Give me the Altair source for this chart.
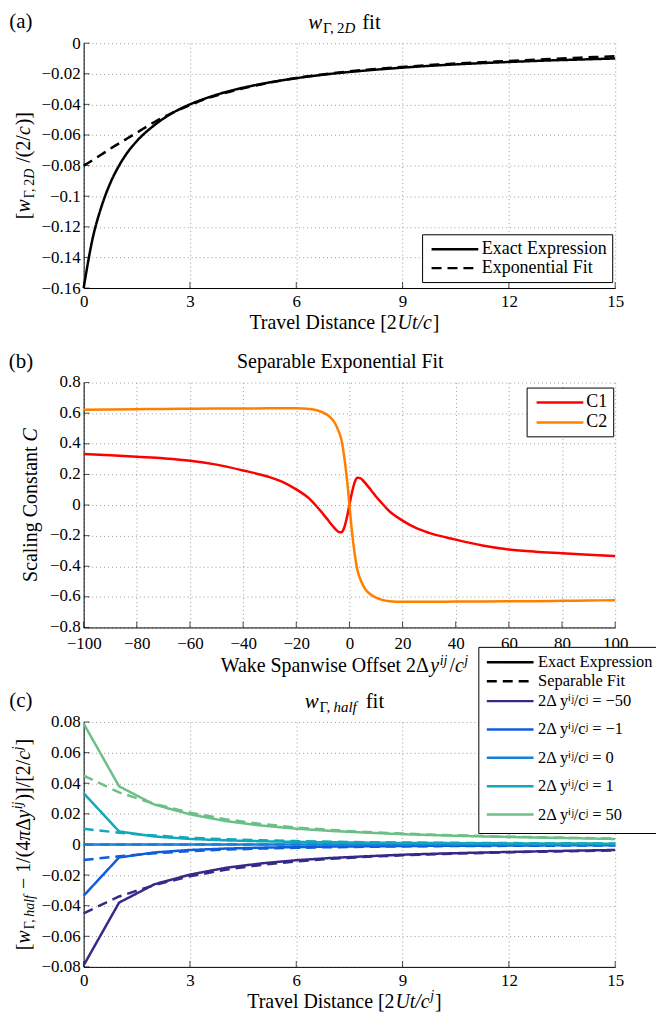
import altair as alt
import pandas as pd

# ---------------- data ----------------
# panel (a)
A_T = [0, 0.25, 0.5, 0.75, 1, 1.25, 1.5, 2, 2.5, 3, 3.5, 4, 5, 6, 7, 8, 9, 10, 11, 12, 13, 14, 15]
A_EXACT = [-0.160, -0.128, -0.107, -0.0915, -0.080, -0.071, -0.064, -0.0535, -0.0457, -0.040, -0.0356,
           -0.032, -0.0267, -0.0229, -0.020, -0.0178, -0.016, -0.0145, -0.0133, -0.0123, -0.0114, -0.0107, -0.0100]
A_FIT = [-0.080, -0.0765, -0.0728, -0.069, -0.0655, -0.062, -0.0585, -0.0515, -0.0455, -0.0405, -0.036,
         -0.0325, -0.027, -0.0228, -0.0197, -0.0173, -0.0155, -0.014, -0.0127, -0.0116, -0.0105, -0.0095, -0.0085]
A_KINDS = ["Exact Expression", "Exponential Fit"]
A_XTICKS = [0, 3, 6, 9, 12, 15]
A_YTICKS = [0, -0.02, -0.04, -0.06, -0.08, -0.1, -0.12, -0.14, -0.16]

# panel (b)
B_X = [-100, -90, -80, -70, -60, -50, -40, -30, -25, -20, -15, -12, -10, -8, -6, -5, -4, -3, -2, -1, 0,
       1, 2, 3, 4, 5, 6, 8, 10, 12, 15, 20, 25, 30, 40, 50, 60, 70, 80, 90, 100]
B_C1 = [0.334, 0.325, 0.315, 0.305, 0.290, 0.264, 0.226, 0.182, 0.150, 0.102, 0.040, -0.016, -0.056, -0.100,
        -0.143, -0.162, -0.176, -0.178, -0.150, -0.085, 0.0,
        0.085, 0.150, 0.178, 0.176, 0.162, 0.143, 0.100, 0.056, 0.016, -0.040, -0.102, -0.150, -0.182,
        -0.226, -0.264, -0.290, -0.305, -0.315, -0.325, -0.334]
B_C2 = [0.622, 0.624, 0.626, 0.628, 0.629, 0.630, 0.631, 0.632, 0.632, 0.632, 0.628, 0.618, 0.605, 0.585,
        0.550, 0.520, 0.480, 0.425, 0.320, 0.180, 0.0,
        -0.180, -0.320, -0.425, -0.480, -0.520, -0.550, -0.585, -0.605, -0.618, -0.628, -0.632, -0.632,
        -0.632, -0.631, -0.630, -0.629, -0.628, -0.626, -0.624, -0.622]
B_SERIES = ["C1", "C2"]
B_COLORS = ["#ff0000", "#ff8000"]
B_XTICKS = [-100, -80, -60, -40, -20, 0, 20, 40, 60, 80, 100]
B_YTICKS = [0.8, 0.6, 0.4, 0.2, 0, -0.2, -0.4, -0.6, -0.8]

# panel (c)
C_T = [0, 1, 2, 3, 4, 5, 6, 7, 8, 9, 10, 11, 12, 13, 14, 15]
C_M50_EX = [-0.079, -0.038, -0.026, -0.0197, -0.0153, -0.0124, -0.0103, -0.0088, -0.0077, -0.0067, -0.0060,
            -0.0054, -0.0049, -0.0044, -0.0040, -0.0036]
C_M50_FIT = [-0.045, -0.034, -0.0265, -0.0208, -0.0165, -0.0134, -0.0111, -0.0094, -0.0081, -0.0071, -0.0063,
             -0.0057, -0.0051, -0.0047, -0.0043, -0.0039]
C_M1_EX = [-0.0335, -0.0085, -0.0052, -0.0036, -0.0027, -0.0021, -0.0017, -0.0014, -0.0012, -0.0010, -0.0009,
           -0.0008, -0.0007, -0.0006, -0.0006, -0.0005]
C_M1_FIT = [-0.0102, -0.0077, -0.0058, -0.0044, -0.0034, -0.0027, -0.0022, -0.0018, -0.0015, -0.0013, -0.0011,
            -0.0010, -0.0009, -0.0008, -0.0007, -0.0006]
C_Z_EX = [0, 0, 0, 0, 0, 0, 0, 0, 0, 0, 0, 0, 0, 0, 0, 0]
C_Z_FIT = [0, 0, 0, 0, 0, 0, 0, 0, 0, 0, 0, 0, 0, 0, 0, 0]
C_P1_EX = [0.0335, 0.0085, 0.0052, 0.0036, 0.0027, 0.0021, 0.0017, 0.0014, 0.0012, 0.0010, 0.0009,
           0.0008, 0.0007, 0.0006, 0.0006, 0.0005]
C_P1_FIT = [0.0102, 0.0077, 0.0058, 0.0044, 0.0034, 0.0027, 0.0022, 0.0018, 0.0015, 0.0013, 0.0011,
            0.0010, 0.0009, 0.0008, 0.0007, 0.0006]
C_P50_EX = [0.079, 0.038, 0.026, 0.0197, 0.0153, 0.0124, 0.0103, 0.0088, 0.0077, 0.0067, 0.0060,
            0.0054, 0.0049, 0.0044, 0.0040, 0.0036]
C_P50_FIT = [0.045, 0.034, 0.0265, 0.0208, 0.0165, 0.0134, 0.0111, 0.0094, 0.0081, 0.0071, 0.0063,
             0.0057, 0.0051, 0.0047, 0.0043, 0.0039]
C_LABELS = ["2Δ yⁱʲ/cʲ = −50", "2Δ yⁱʲ/cʲ = −1", "2Δ yⁱʲ/cʲ = 0", "2Δ yⁱʲ/cʲ = 1", "2Δ yⁱʲ/cʲ = 50"]
C_COLORS = ["#352a87", "#0f5cdd", "#1481d6", "#10a8ba", "#6cbf86"]
C_KINDS = ["Exact Expression", "Separable Fit"]
C_XTICKS = [0, 3, 6, 9, 12, 15]
C_YTICKS = [0.08, 0.06, 0.04, 0.02, 0, -0.02, -0.04, -0.06, -0.08]

# ---------------- styling helpers ----------------
FONT = "Liberation Serif, Times New Roman, Times, serif"
W, H = 534, 246
ANN = pd.DataFrame({"k": [0]})

REG = {' ': .25, '(': .333, ')': .333, ',': .25, '.': .25, '/': .278, '[': .333, ']': .333, '−': .564,
       '=': .564, 'A': .722, 'C': .667, 'D': .722, 'E': .611, 'F': .556, 'O': .722, 'S': .556, 'T': .611,
       'U': .722, 'W': .944, 'a': .444, 'b': .5, 'c': .444, 'd': .5, 'e': .444, 'f': .333, 'g': .5, 'h': .5,
       'i': .278, 'j': .278, 'k': .5, 'l': .278, 'm': .778, 'n': .5, 'o': .5, 'p': .5, 'r': .333, 's': .389,
       't': .278, 'u': .5, 'v': .5, 'w': .722, 'x': .5, 'y': .5, 'Γ': .578, 'Δ': .612, 'π': .55}
IT = {'w': .667, 'D': .722, 'U': .722, 't': .278, 'c': .444, 'y': .444, 'i': .278, 'j': .278, 'h': .5,
      'a': .5, 'l': .278, 'f': .278, 'C': .667, 'π': .5}


def tw(s, size, italic):
    tbl = IT if italic else REG
    return size * sum(tbl.get(ch, REG.get(ch, 0.5)) for ch in s)


def rich(pieces, x, y, angle=0):
    widths = [tw(t, s, it) + ex for (t, s, it, sh, ex) in pieces]
    cur = -sum(widths) / 2.0
    out = []
    for (t, s, it, sh, ex), w in zip(pieces, widths):
        out.append(
            alt.Chart(ANN).mark_text(
                text=t, font=FONT, fontSize=s, fontStyle="italic" if it else "normal",
                align="left", baseline="alphabetic", dx=cur, dy=sh, angle=angle, color="black"
            ).encode(x=alt.value(x), y=alt.value(y))
        )
        cur += w
    return out


def panel_label(text):
    return alt.Chart(ANN).mark_text(
        text=text, font=FONT, fontSize=21, align="center", baseline="alphabetic", color="black"
    ).encode(x=alt.value(-63), y=alt.value(-15))


def axis(values, pad, **kw):
    return alt.Axis(values=values, format="~f", grid=True, gridDash=[1, 3], gridColor="#9a9a9a",
                    gridWidth=1, domainColor="black", domainWidth=1, ticks=False, tickSize=0,
                    labelPadding=pad, labelFont=FONT, labelFontSize=17, labelColor="black",
                    labelFlush=False, labelOverlap=False, title=None, **kw)


PATH = "M-2.76,0H2.76"


def legend(x, y, **kw):
    base = dict(orient="none", legendX=x, legendY=y, title=None, labelFont=FONT, labelFontSize=18,
                labelColor="black", symbolType=PATH, symbolSize=289, symbolStrokeWidth=2.5,
                symbolOffset=18, labelOffset=17, rowPadding=0, padding=5, labelLimit=400)
    base.update(kw)
    return alt.Legend(**base)


def inner_ticks(xenc, yenc, xvals, yvals, xf, yf):
    tx = alt.Chart(pd.DataFrame({xf: xvals})).mark_tick(
        orient="vertical", size=6, thickness=1, color="black").encode(x=xenc, y=alt.value(H - 3))
    ty = alt.Chart(pd.DataFrame({yf: yvals})).mark_tick(
        orient="horizontal", size=6, thickness=1, color="black").encode(y=yenc, x=alt.value(3))
    return [tx, ty]


TX = 262
XT_Y = H + 41
XPAD = 6
YPAD = 3.5

# ---------------- panel (a) ----------------
df_a = pd.DataFrame({"t": A_T + A_T, "v": A_EXACT + A_FIT,
                     "kind": [A_KINDS[0]] * len(A_T) + [A_KINDS[1]] * len(A_T)})
xa = alt.X("t:Q", scale=alt.Scale(domain=[0, 15], nice=False, zero=False), axis=axis(A_XTICKS, XPAD))
ya = alt.Y("v:Q", scale=alt.Scale(domain=[-0.16, 0], nice=False, zero=False), axis=axis(A_YTICKS, YPAD))
lines_a = alt.Chart(df_a).mark_line(color="black", strokeWidth=2.5, interpolate="monotone").encode(
    x=xa, y=ya,
    strokeDash=alt.StrokeDash("kind:N", scale=alt.Scale(domain=A_KINDS, range=[[1, 0], [10, 6]]),
                              legend=legend(340, 192, strokeColor="black", fillColor="white",
                                            symbolStrokeColor="black", cornerRadius=0)),
)
anchor = alt.Chart(ANN).mark_rule(strokeOpacity=0).encode(
    x=alt.value(-75), y=alt.value(-33), y2=alt.value(0))
title_a = rich([("w", 21, True, 0, 1), ("Γ,", 15, False, 4, 1.5), ("2", 15, False, 4, 0),
                ("D", 15, True, 4, 7), ("fit", 21, False, 0, 0)], TX, -14)
ytitle_a = rich([("[", 20, False, 0, 0), ("w", 20, True, 0, 1), ("Γ,", 14, False, 4, 1),
                 ("2", 14, False, 4, 0), ("D", 14, True, 4, 6), ("/(2/", 20, False, 0, 0),
                 ("c", 20, True, 0, 1), (")]", 20, False, 0, 0)], -54, H / 2, angle=270)
xtitle_a = rich([("Travel Distance [2", 20, False, 0, 0), ("Ut/c", 20, True, 0, 1),
                 ("]", 20, False, 0, 0)], TX, XT_Y)
pa = alt.layer(anchor, *inner_ticks(xa, ya, A_XTICKS, A_YTICKS, "t", "v"), lines_a,
               panel_label("(a)"), *title_a, *ytitle_a, *xtitle_a).properties(width=W, height=H)

# ---------------- panel (b) ----------------
df_b = pd.DataFrame({"x": B_X + B_X, "v": B_C1 + B_C2,
                     "series": [B_SERIES[0]] * len(B_X) + [B_SERIES[1]] * len(B_X)})
xb = alt.X("x:Q", scale=alt.Scale(domain=[-100, 100], nice=False, zero=False), axis=axis(B_XTICKS, 8))
yb = alt.Y("v:Q", scale=alt.Scale(domain=[-0.8, 0.8], nice=False, zero=False),
           axis=axis(B_YTICKS, YPAD, labelOffset=-1))
lines_b = alt.Chart(df_b).mark_line(strokeWidth=2.5, interpolate="monotone").encode(
    x=xb, y=yb,
    color=alt.Color("series:N", scale=alt.Scale(domain=B_SERIES, range=B_COLORS),
                    legend=legend(445, 5, strokeColor="black", fillColor="white", symbolOffset=18.5,
                                  labelOffset=16.5, rowPadding=1, cornerRadius=0)),
)
title_b = rich([("Separable Exponential Fit", 20, False, 0, 0)], TX - 4, -15)
ytitle_b = rich([("Scaling Constant", 20, False, 0, 5), ("C", 20, True, 0, 0)], -47, H / 2, angle=270)
xtitle_b = rich([("Wake Spanwise Offset 2Δ", 20, False, 0, 0), ("y", 20, True, 0, 0.5),
                 ("ij", 14, True, -7, 2), ("/", 20, False, 0, 0), ("c", 20, True, 0, 0.5),
                 ("j", 14, True, -7, 0)], TX, XT_Y + 4)
pb = alt.layer(*inner_ticks(xb, yb, B_XTICKS, B_YTICKS, "x", "v"), lines_b,
               panel_label("(b)"), *title_b, *ytitle_b, *xtitle_b).properties(width=W, height=H)

# ---------------- panel (c) ----------------
c_series = [(C_LABELS[0], C_M50_EX, C_M50_FIT), (C_LABELS[1], C_M1_EX, C_M1_FIT),
            (C_LABELS[2], C_Z_EX, C_Z_FIT), (C_LABELS[3], C_P1_EX, C_P1_FIT),
            (C_LABELS[4], C_P50_EX, C_P50_FIT)]
rows = []
for lab, ex, fit in c_series:
    for t, v in zip(C_T, ex):
        rows.append({"t": t, "v": v, "off": lab, "kind": C_KINDS[0]})
    for t, v in zip(C_T, fit):
        rows.append({"t": t, "v": v, "off": lab, "kind": C_KINDS[1]})
df_c = pd.DataFrame(rows)
xc = alt.X("t:Q", scale=alt.Scale(domain=[0, 15], nice=False, zero=False), axis=axis(C_XTICKS, XPAD))
yc = alt.Y("v:Q", scale=alt.Scale(domain=[-0.08, 0.08], nice=False, zero=False), axis=axis(C_YTICKS, YPAD))
LX = 397
lines_c = alt.Chart(df_c).mark_line(strokeWidth=2.5).encode(
    x=xc, y=yc,
    color=alt.Color("off:N", scale=alt.Scale(domain=C_LABELS, range=C_COLORS),
                    legend=legend(LX, -31, padding=0, rowPadding=9.5, symbolOffset=21.5,
                                  labelOffset=18, labelFontSize=16.5)),
    strokeDash=alt.StrokeDash("kind:N", scale=alt.Scale(domain=C_KINDS, range=[[1, 0], [10, 6]]),
                              legend=legend(LX, -70, padding=0, rowPadding=-1, symbolOffset=21.5,
                                            labelOffset=18, labelFontSize=16.5,
                                            symbolStrokeColor="black")),
)
box_bg = alt.Chart(ANN).mark_rect(fill="white").encode(
    x=alt.value(LX), x2=alt.value(575), y=alt.value(-75), y2=alt.value(112))
box_top = alt.Chart(ANN).mark_rule(color="black", strokeWidth=1).encode(
    x=alt.value(LX), x2=alt.value(575), y=alt.value(-75))
box_bot = alt.Chart(ANN).mark_rule(color="black", strokeWidth=1).encode(
    x=alt.value(LX), x2=alt.value(575), y=alt.value(112))
box_left = alt.Chart(ANN).mark_rule(color="black", strokeWidth=1).encode(
    x=alt.value(LX), y=alt.value(-75), y2=alt.value(112))
title_c = rich([("w", 21, True, 0, 1), ("Γ,", 15, False, 4, 1.5), ("half", 15, True, 4, 9),
                ("fit", 21, False, 0, 0)], TX, -14)
ytitle_c = rich([("[", 20, False, 0, 0), ("w", 20, True, 0, 1), ("Γ,", 14, False, 4, 1),
                 ("half", 14, True, 4, 6), ("−", 20, False, 0, 5), ("1/(4", 20, False, 0, 0),
                 ("π", 20, True, 0, 0), ("Δ", 20, False, 0, 0), ("y", 20, True, 0, 0.5),
                 ("ij", 14, True, -8, 1), (")]/[2/", 20, False, 0, 0), ("c", 20, True, 0, 0.5),
                 ("j", 14, True, -8, 1), ("]", 20, False, 0, 0)], -54, H / 2, angle=270)
xtitle_c = rich([("Travel Distance [2", 20, False, 0, 0), ("Ut/c", 20, True, 0, 0.5),
                 ("j", 14, True, -8, 1), ("]", 20, False, 0, 0)], TX, XT_Y)
pc = alt.layer(*inner_ticks(xc, yc, C_XTICKS, C_YTICKS, "t", "v"), lines_c,
               box_bg, box_top, box_bot, box_left,
               panel_label("(c)"), *title_c, *ytitle_c, *xtitle_c).properties(width=W, height=H)

chart = alt.vconcat(pa, pb, pc, spacing=95, bounds="flush").resolve_scale(
    x="independent", y="independent", color="independent", strokeDash="independent"
).resolve_legend(color="independent", strokeDash="independent").properties(
    padding=0, background="white"
).configure_view(stroke=None)

chart.save("out.html", embed_options={"renderer": "svg", "actions": False})
